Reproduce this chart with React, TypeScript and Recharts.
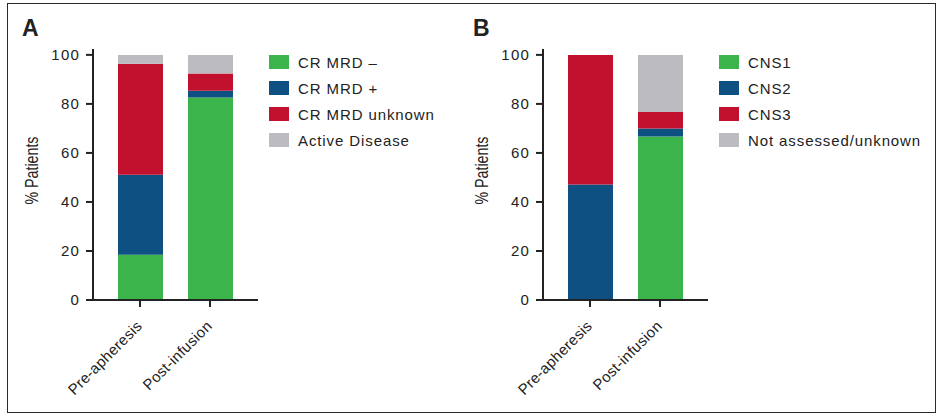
import { BarChart, Bar, XAxis, YAxis, Legend } from 'recharts';

const categories = ['Pre-apheresis', 'Post-infusion'];

// Panel A: response status, % of patients
const crMrdNeg = [18.5, 82.6];
const crMrdPos = [32.6, 2.8];
const crMrdUnknown = [45.3, 7.0];
const activeDisease = [3.6, 7.6];

// Panel B: CNS status, % of patients
const cns1 = [0, 66.7];
const cns2 = [47.1, 3.3];
const cns3 = [52.9, 6.7];
const notAssessed = [0, 23.3];

const yTicks = [0, 20, 40, 60, 80, 100];

const GREEN = '#3ab44b';
const BLUE = '#0f5082';
const RED = '#c2102f';
const GRAY = '#bcbcc0';
const INK = '#222';
const FONT = '"Liberation Sans", Arial, sans-serif';

type Series = { key: string; name: string; color: string; values: number[] };

const seriesA: Series[] = [
  { key: 'neg', name: 'CR MRD \u2013', color: GREEN, values: crMrdNeg },
  { key: 'pos', name: 'CR MRD +', color: BLUE, values: crMrdPos },
  { key: 'unk', name: 'CR MRD unknown', color: RED, values: crMrdUnknown },
  { key: 'act', name: 'Active Disease', color: GRAY, values: activeDisease },
];

const seriesB: Series[] = [
  { key: 'c1', name: 'CNS1', color: GREEN, values: cns1 },
  { key: 'c2', name: 'CNS2', color: BLUE, values: cns2 },
  { key: 'c3', name: 'CNS3', color: RED, values: cns3 },
  { key: 'na', name: 'Not assessed/unknown', color: GRAY, values: notAssessed },
];

const buildRows = (series: Series[]) =>
  categories.map((name, i) => {
    const row: Record<string, string | number> = { name };
    series.forEach((s) => {
      row[s.key] = s.values[i];
    });
    return row;
  });

const XTick = ({ x, y, payload }: any) => (
  <text
    x={x + 3}
    y={y + 20}
    transform={`rotate(-45, ${x + 3}, ${y + 20})`}
    textAnchor="end"
    fontSize={15}
    fontFamily={FONT}
    letterSpacing={0.3}
    fill={INK}
  >
    {payload.value}
  </text>
);

// condensed look: squeeze the label along its own direction
const YLabel = ({ viewBox }: any) => {
  const cx = 37.5;
  const cy = viewBox.y + viewBox.height / 2 - 4;
  return (
    <text
      x={0}
      y={0}
      transform={`translate(${cx}, ${cy}) rotate(-90) scale(0.79, 1)`}
      textAnchor="middle"
      fontSize={18}
      fontFamily={FONT}
      fill={INK}
    >
      % Patients
    </text>
  );
};

const LegendBox = ({ payload }: any) => (
  <div style={{ fontFamily: FONT }}>
    {(payload || []).map((p: any) => (
      <div key={p.value} style={{ display: 'flex', alignItems: 'center', height: 26 }}>
        <span style={{ width: 20, height: 14, background: p.color, marginRight: 9 }} />
        <span style={{ fontSize: 15, letterSpacing: 0.9, color: INK, whiteSpace: 'nowrap' }}>
          {p.value}
        </span>
      </div>
    ))}
  </div>
);

const axisStroke = { stroke: INK, strokeWidth: 2 };

const Panel = ({ series, width, left }: { series: Series[]; width: number; left: number }) => {
  const order = series.map((s) => s.key);
  return (
    <div style={{ position: 'absolute', left, top: 0 }}>
      <BarChart
        width={width}
        height={417}
        data={buildRows(series)}
        margin={{ top: 49, right: width - 258, bottom: 27, left: 33 }}
      >
        <XAxis
          dataKey="name"
          height={90}
          padding={{ left: 12, right: 13 }}
          axisLine={axisStroke}
          tickLine={axisStroke}
          tickSize={7}
          tickMargin={0}
          tick={<XTick />}
          interval={0}
        />
        <YAxis
          width={60}
          domain={[0, 102.4]}
          ticks={yTicks}
          allowDataOverflow
          axisLine={axisStroke}
          tickLine={axisStroke}
          tickSize={7}
          tickMargin={6}
          tick={{ fill: INK, fontSize: 15, fontFamily: FONT, letterSpacing: 1.2 }}
          label={<YLabel />}
        />
        <Legend
          layout="vertical"
          align="center"
          verticalAlign="middle"
          itemSorter={(item: any) => order.indexOf(item.dataKey)}
          wrapperStyle={{ left: 269, top: 49, width: 215 }}
          content={<LegendBox />}
        />
        {series.map((s) => (
          <Bar
            key={s.key}
            dataKey={s.key}
            name={s.name}
            stackId="stack"
            fill={s.color}
            barSize={45}
            isAnimationActive={false}
          />
        ))}
      </BarChart>
    </div>
  );
};

export default function App() {
  return (
    <div
      style={{
        position: 'absolute',
        left: 0,
        top: 0,
        width: 939,
        height: 417,
        background: '#fff',
        overflow: 'hidden',
      }}
    >
      <div
        style={{
          position: 'absolute',
          left: 7,
          top: 3,
          width: 929,
          height: 410,
          border: '1px solid #2a2a2a',
          boxSizing: 'border-box',
        }}
      />
      <Panel series={seriesA} width={450} left={0} />
      <Panel series={seriesB} width={489} left={450} />
      <svg width={939} height={417} style={{ position: 'absolute', left: 0, top: 0, pointerEvents: 'none' }}>
        <text x={22} y={36} fontSize={23} fontWeight="bold" fontFamily={FONT} fill={INK}>
          A
        </text>
        <text x={473} y={36} fontSize={23} fontWeight="bold" fontFamily={FONT} fill={INK}>
          B
        </text>
      </svg>
    </div>
  );
}
